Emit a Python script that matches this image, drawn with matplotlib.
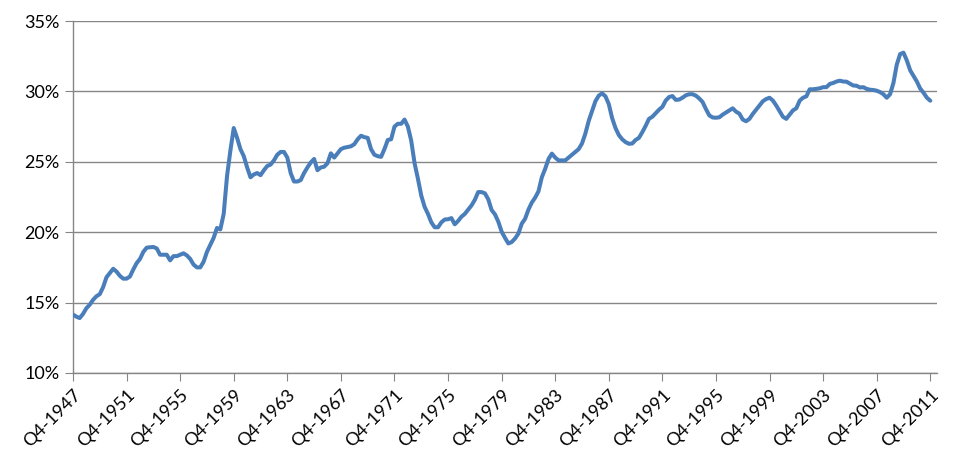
import numpy as np
import matplotlib.pyplot as plt

# Quarterly share (%), Q4-1947 .. Q4-2011
share = [
    14.15, 14.0, 13.9, 14.2, 14.6, 14.85, 15.2, 15.45, 15.6, 16.1, 16.8, 17.1, 17.4, 17.2, 16.9, 16.7,
    16.7, 16.85, 17.35, 17.8, 18.1, 18.6, 18.9, 18.93, 18.95, 18.85, 18.4, 18.4, 18.4, 18.0, 18.3, 18.3,
    18.4, 18.5, 18.35, 18.1, 17.7, 17.5, 17.5, 17.9, 18.6, 19.1, 19.6, 20.3, 20.2, 21.3, 24.0, 25.8,
    27.4, 26.7, 25.9, 25.4, 24.6, 23.9, 24.1, 24.2, 24.05, 24.4, 24.7, 24.8, 25.1, 25.5, 25.7, 25.7,
    25.3, 24.2, 23.6, 23.6, 23.7, 24.2, 24.6, 24.95, 25.2, 24.4, 24.6, 24.65, 24.9, 25.6, 25.3, 25.6,
    25.9, 26.0, 26.05, 26.1, 26.25, 26.6, 26.85, 26.75, 26.7, 25.9, 25.5, 25.4, 25.35, 25.9, 26.55, 26.6,
    27.5, 27.7, 27.7, 28.0, 27.5, 26.5, 24.9, 23.8, 22.6, 21.8, 21.3, 20.7, 20.35, 20.35, 20.7, 20.9,
    20.92, 21.0, 20.56, 20.8, 21.1, 21.3, 21.6, 21.9, 22.3, 22.85, 22.85, 22.76, 22.34, 21.58, 21.27, 20.75,
    20.04, 19.6, 19.2, 19.3, 19.55, 19.9, 20.6, 20.95, 21.6, 22.1, 22.45, 22.9, 23.9, 24.5, 25.2, 25.58,
    25.3, 25.1, 25.1, 25.1, 25.3, 25.5, 25.7, 25.9, 26.3, 27.0, 27.9, 28.6, 29.3, 29.7, 29.86, 29.65,
    29.1, 28.1, 27.4, 26.9, 26.6, 26.4, 26.28, 26.3, 26.55, 26.7, 27.1, 27.55, 28.05, 28.2, 28.45, 28.7,
    28.9, 29.35, 29.6, 29.67, 29.4, 29.42, 29.55, 29.72, 29.8, 29.8, 29.7, 29.5, 29.25, 28.75, 28.3, 28.15,
    28.13, 28.16, 28.35, 28.5, 28.65, 28.8, 28.56, 28.42, 28.0, 27.88, 28.05, 28.4, 28.7, 29.0, 29.3, 29.46,
    29.55, 29.35, 29.0, 28.6, 28.2, 28.05, 28.35, 28.65, 28.8, 29.34, 29.55, 29.65, 30.15, 30.15, 30.18, 30.22,
    30.3, 30.3, 30.53, 30.6, 30.7, 30.76, 30.7, 30.69, 30.55, 30.42, 30.4, 30.28, 30.3, 30.18, 30.12, 30.1,
    30.05, 29.95, 29.8, 29.55, 29.8, 30.6, 31.9, 32.65, 32.75, 32.2, 31.5, 31.1, 30.7, 30.2, 29.9, 29.55,
    29.34,
]
tick_years = list(range(1947, 2012, 4))
tick_labels = ['Q4-%d' % y for y in tick_years]
y_ticks = [10, 15, 20, 25, 30, 35]

plt.rcParams['font.family'] = ['Lato', 'DejaVu Sans']

fig = plt.figure(figsize=(9.76, 4.71), dpi=100)
ax = fig.add_axes([0.0748, 0.2081, 0.8852, 0.7473])

x = np.arange(len(share))
ax.plot(x, share, color='#4A7EBB', linewidth=2.9, solid_capstyle='round', zorder=3)

ax.set_xlim(0, 258)
ax.set_ylim(10, 35)
ax.set_yticks(y_ticks)
ax.set_yticklabels(['%d%%' % v for v in y_ticks])
ax.set_xticks([(y - 1947) * 4 for y in tick_years])
ax.set_xticklabels(tick_labels, rotation=45, ha='right', va='top', rotation_mode='anchor')

ax.grid(axis='y', color='#868686', linewidth=1.0)
ax.set_axisbelow(True)
for s in ['top', 'right']:
    ax.spines[s].set_visible(False)
for s in ['left', 'bottom']:
    ax.spines[s].set_color('#868686')
    ax.spines[s].set_linewidth(1.0)
ax.tick_params(axis='both', direction='out', length=6, color='#868686', labelsize=13, labelcolor='black')
ax.tick_params(axis='x', pad=4)

fig.savefig('out.png', dpi=100)
